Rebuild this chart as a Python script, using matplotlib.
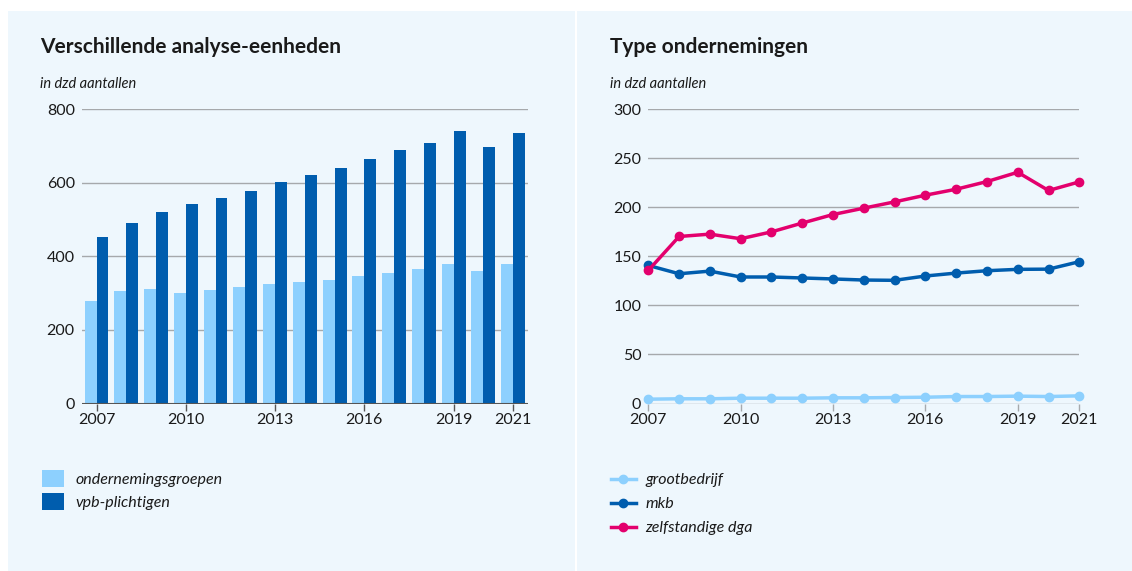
import numpy as np
import matplotlib
matplotlib.use('Agg')
import matplotlib.pyplot as plt
from matplotlib.patches import Rectangle

plt.rcParams['font.family'] = ['Lato', 'DejaVu Sans']

# data (in dzd aantallen)
jaren = list(range(2007, 2022))
ondernemingsgroepen = [279, 306, 311, 301, 308, 316, 324, 330, 336, 348, 356, 367, 379, 359, 378]
vpb_plichtigen = [452, 492, 521, 543, 560, 578, 603, 621, 640, 665, 689, 709, 740, 697, 735]

grootbedrijf = [4.4, 4.8, 4.8, 5.4, 5.4, 5.4, 5.8, 5.8, 6.1, 6.4, 7.1, 7.1, 7.5, 7.1, 7.8]
mkb = [140.8, 132.3, 135.0, 129.0, 129.0, 128.0, 127.0, 125.9, 125.6, 130.0, 133.0, 135.4, 136.8, 137.0, 144.6]
zelfstandige_dga = [135.7, 170.3, 172.7, 168.0, 175.0, 184.0, 192.7, 199.2, 205.6, 212.4, 218.5, 226.3, 235.8, 217.2, 226.0]

tick_jaren = [2007, 2010, 2013, 2016, 2019, 2021]

licht = '#8DD0FE'
donker = '#005DAE'
roze = '#E3006D'
achtergrond = '#EEF7FD'
grid_kleur = '#A6A9AC'
tekst = '#1A1A1A'

W, H = 1132, 571
fig = plt.figure(figsize=(W / 100, H / 100), dpi=100)
fig.patch.set_facecolor('white')

# pixel box -> figure fraction (left, bottom, width, height)
def px(x0, y0, x1, y1):
    return (x0 / W, 1 - y1 / H, (x1 - x0) / W, (y1 - y0) / H)

for x0, x1 in [(8, 575), (577, 1132)]:
    l, b, w, h = px(x0, 11, x1, 571)
    fig.patches.append(Rectangle((l, b), w, h, transform=fig.transFigure,
                                 facecolor=achtergrond, edgecolor='none', zorder=-10))

ax1 = fig.add_axes(px(81.7, 109.3, 528, 403.5))
ax2 = fig.add_axes(px(648.3, 109.3, 1079.3, 403.5))

for ax in (ax1, ax2):
    ax.set_facecolor('none')
    for s in ax.spines.values():
        s.set_visible(False)
    ax.tick_params(axis='y', length=0, pad=5, labelsize=11.5, labelcolor=tekst)
    ax.tick_params(axis='x', length=5, width=1, color='#555555', pad=2,
                   labelsize=11.5, labelcolor=tekst)
    ax.grid(axis='y', color=grid_kleur, linewidth=1)
    ax.set_axisbelow(True)

# left: bars
x = np.array(jaren)
bw = 0.4
ax1.bar(x - bw / 2, ondernemingsgroepen, width=bw, color=licht, label='ondernemingsgroepen', zorder=2)
ax1.bar(x + bw / 2, vpb_plichtigen, width=bw, color=donker, label='vpb-plichtigen', zorder=2)
ax1.set_xlim(2006.5, 2021.5)
ax1.set_ylim(0, 800)
ax1.set_yticks([0, 200, 400, 600, 800])
ax1.set_xticks(tick_jaren)
ax1.axhline(0, color='#555555', linewidth=1.5, zorder=3)

# right: lines
for vals, kleur, naam in [(grootbedrijf, licht, 'grootbedrijf'),
                          (mkb, donker, 'mkb'),
                          (zelfstandige_dga, roze, 'zelfstandige dga')]:
    ax2.plot(jaren, vals, color=kleur, linewidth=2.5, marker='o', markersize=6,
             label=naam, zorder=3, clip_on=False)
ax2.set_xlim(2007, 2021)
ax2.set_ylim(0, 300)
ax2.set_yticks([0, 50, 100, 150, 200, 250, 300])
ax2.set_xticks(tick_jaren)
ax2.tick_params(axis='x', color=grid_kleur)

# titles
fig.text(40 / W, 1 - 47 / H, 'Verschillende analyse-eenheden', fontsize=15,
         fontweight='bold', color=tekst, va='center', ha='left')
fig.text(610 / W, 1 - 47 / H, 'Type ondernemingen', fontsize=15,
         fontweight='bold', color=tekst, va='center', ha='left')
fig.text(40 / W, 1 - 84 / H, 'in dzd aantallen', fontsize=10.5, style='italic',
         color=tekst, va='center', ha='left')
fig.text(610 / W, 1 - 84 / H, 'in dzd aantallen', fontsize=10.5, style='italic',
         color=tekst, va='center', ha='left')

# legends
leg1 = ax1.legend(loc='upper left', bbox_to_anchor=(42 / W, 1 - 470 / H),
                  bbox_transform=fig.transFigure, frameon=False,
                  prop={'style': 'italic', 'size': 11.5},
                  borderpad=0, borderaxespad=0,
                  handlelength=1.4, handleheight=1.25, handletextpad=0.7,
                  labelspacing=0.4)
leg2 = ax2.legend(loc='upper left', bbox_to_anchor=(611 / W, 1 - 473 / H),
                  bbox_transform=fig.transFigure, frameon=False,
                  prop={'style': 'italic', 'size': 11.5},
                  borderpad=0, borderaxespad=0,
                  handlelength=1.55, handletextpad=0.6, labelspacing=0.62)
for t in leg1.get_texts() + leg2.get_texts():
    t.set_color(tekst)

fig.savefig('out.png', dpi=100, facecolor=fig.get_facecolor())
